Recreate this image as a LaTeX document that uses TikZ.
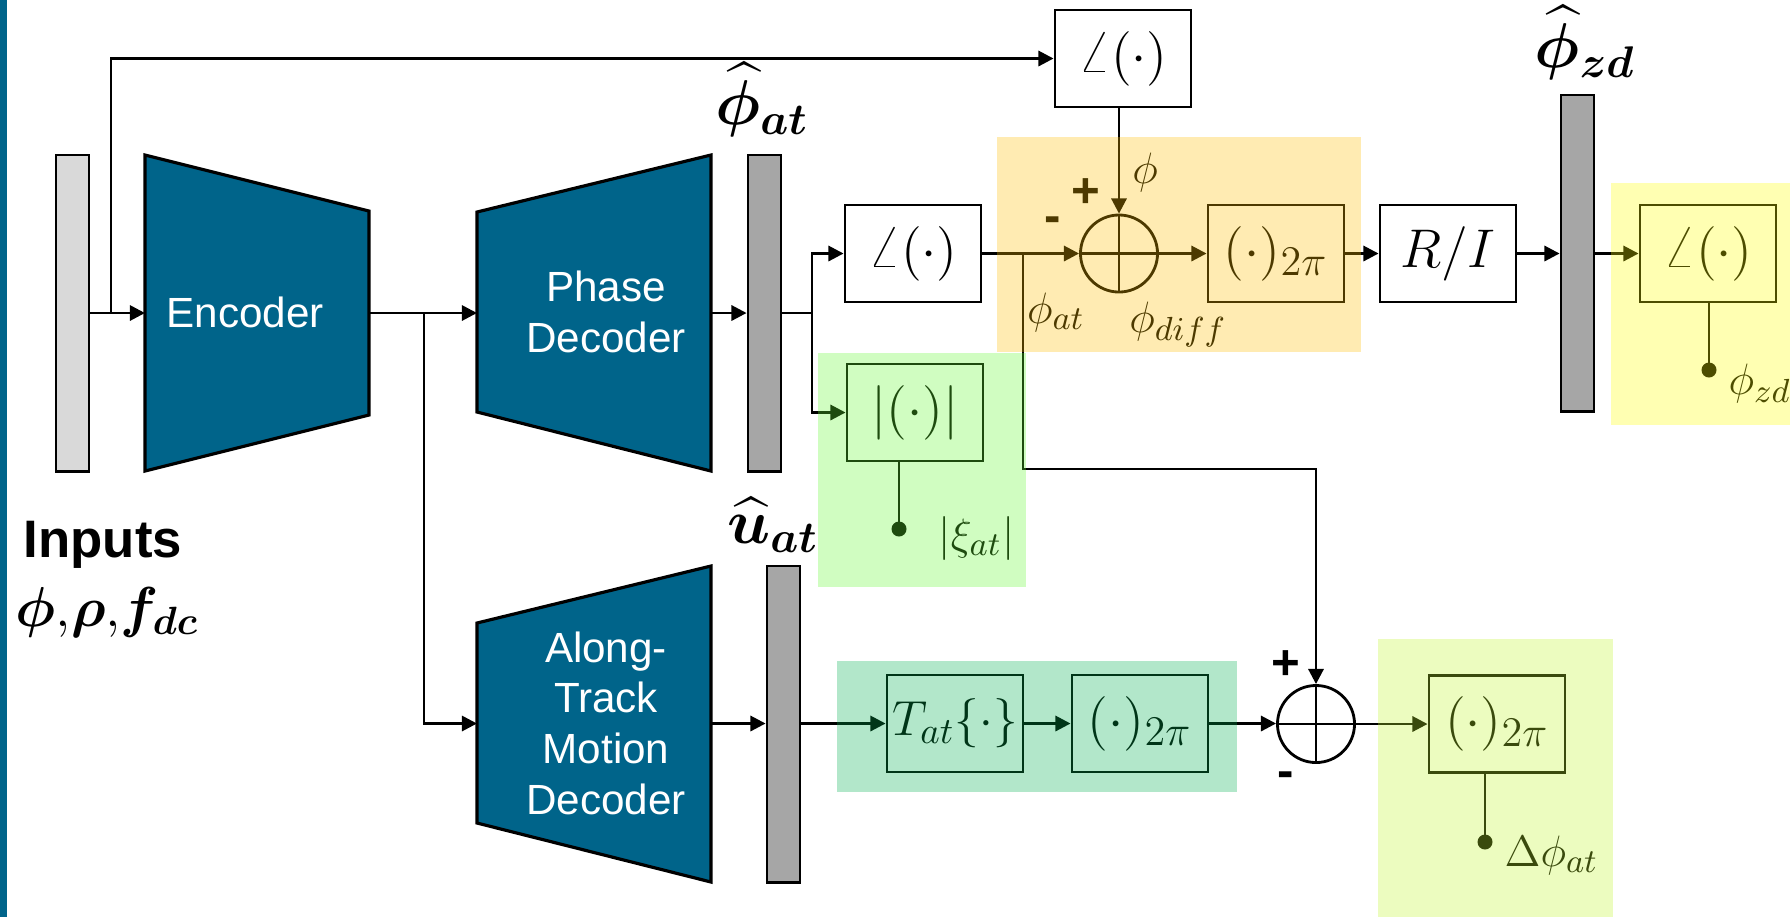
\RequirePackage{fix-cm}
\documentclass[tikz,border=0pt]{standalone}
\usepackage{amsmath}
\usepackage{bm}
\usepackage{fontspec}
\setsansfont{Liberation Sans}
\usetikzlibrary{arrows.meta,calc}
\DeclareMathSizes{15.5}{15.5}{12}{9}
\DeclareMathSizes{14}{14}{10.5}{8}
\DeclareMathSizes{12.5}{12.5}{9.5}{7}
\definecolor{tealblue}{RGB}{0,100,138}
\definecolor{lgray}{RGB}{217,217,217}
\definecolor{dgray}{RGB}{166,166,166}
\definecolor{ovorange}{RGB}{255,192,0}
\definecolor{ovgreen}{RGB}{100,250,50}
\definecolor{ovteal}{RGB}{0,176,80}
\definecolor{ovyellow}{RGB}{255,255,0}
\definecolor{ovlime}{RGB}{195,248,45}
\begin{document}
\begin{tikzpicture}[x=0.01cm,y=-0.01cm,
  box/.style={draw, line width=0.8pt, fill=white, minimum width=1.36cm, minimum height=0.97cm, inner sep=0pt, font=\fontsize{15.5}{17}\selectfont},
  bar/.style={draw, line width=0.8pt, minimum width=0.33cm, minimum height=3.16cm, inner sep=0pt},
  arr/.style={line width=0.8pt, -{Triangle[length=4.3pt,width=4.3pt]}},
  ln/.style={line width=0.8pt},
  sumc/.style={draw, circle, line width=0.8pt, minimum size=0.77cm, inner sep=0pt},
  trap/.style={fill=tealblue, draw=black, line width=0.9pt},
  dectxt/.style={text=white, font=\sffamily\fontsize{12}{14.4}\selectfont, align=center, inner sep=0pt},
  sgn/.style={font=\sffamily\bfseries\fontsize{14}{16}\selectfont, inner sep=0pt},
  lbl/.style={font=\fontsize{12.5}{14}\selectfont, inner sep=0pt},
  big/.style={font=\fontsize{18}{20}\selectfont, inner sep=0pt},
  dotc/.style={circle, fill=black, inner sep=0pt, minimum size=0.15cm},
  tint/.style={fill opacity=0.3}
]
\clip (0,0) rectangle (1790,917);
\fill[white] (0,0) rectangle (1790,917);
\fill[tealblue] (0,0) rectangle (7,917);

% trapezoids
\draw[trap] (145,155) -- (369,211) -- (369,415) -- (145,471) -- cycle;
\node[dectxt] (enc) at (245,312) {Encoder};
\draw[trap] (477,212) -- (711,155) -- (711,471) -- (477,412) -- cycle;
\node[dectxt] (pdec) at (606,312) {Phase\\Decoder};
\draw[trap] (477,623) -- (711,566) -- (711,882) -- (477,823) -- cycle;
\node[dectxt] (adec) at (606,723) {Along-\\Track\\Motion\\Decoder};
\coordinate (encin) at (145,313);
\coordinate (encout) at (369,313);
\coordinate (pdin) at (477,313);
\coordinate (pdout) at (711,313);
\coordinate (atin) at (477,723.5);
\coordinate (atout) at (711,723.5);

% bars
\node[bar, fill=lgray] (inbar) at (72.5,313) {};
\node[bar, fill=dgray] (patbar) at (764.5,313) {};
\node[bar, fill=dgray] (zdbar) at (1577.5,253) {};
\node[bar, fill=dgray] (uatbar) at (783.5,724) {};

% boxes
\node[box] (angtop) at (1123,58.5) {$\angle(\cdot)$};
\node[box] (ang1) at (913,253.5) {$\angle(\cdot)$};
\node[box] (abs) at (915,412.5) {$|(\cdot)|$};
\node[box] (wrap1) at (1276,253.5) {$(\cdot)_{2\pi}$};
\node[box] (ri) at (1448,253.5) {$R/I$};
\node[box] (ang2) at (1708,253.5) {$\angle(\cdot)$};
\node[box, font=\fontsize{14}{16}\selectfont] (tat) at (955,723.5) {$T_{at}\{\cdot\}$};
\node[box] (wrap2) at (1140,723.5) {$(\cdot)_{2\pi}$};
\node[box] (wrap3) at (1497,724) {$(\cdot)_{2\pi}$};

% sums
\node[sumc] (sum1) at (1119,253.5) {};
\node[sumc] (sum2) at (1316,724) {};
\draw[ln] (sum1.north) -- (sum1.south) (sum1.west) -- (sum1.east);
\draw[ln] (sum2.north) -- (sum2.south) (sum2.west) -- (sum2.east);

% connectors
\coordinate (split0) at (111,313);
\coordinate (split1) at (424,313);
\coordinate (split2) at (812,313);
\coordinate (split3) at (1023,253.5);
\coordinate (turn) at (1023,469);
\draw[arr] (inbar.east) -- (encin);
\draw[arr] (split0) |- (angtop.west);
\draw[arr] (encout) -- (pdin);
\draw[arr] (split1) |- (atin);
\draw[arr] (pdout) -- (patbar.west);
\draw[ln] (patbar.east) -- (split2);
\draw[arr] (split2) |- (ang1.west);
\draw[arr] (split2) |- (abs.west);
\draw[arr] (ang1.east) -- (sum1.west);
\draw[arr] (split3) -- (turn) -| (sum2.north);
\draw[arr] (angtop.south -| sum1.north) -- (sum1.north);
\draw[arr] (sum1.east) -- (wrap1.west);
\draw[arr] (wrap1.east) -- (ri.west);
\draw[arr] (ri.east) -- (ri.east -| zdbar.west);
\draw[arr] (zdbar.east |- ang2.west) -- (ang2.west);
\draw[arr] (atout) -- (atout -| uatbar.west);
\draw[arr] (uatbar.east |- tat.west) -- (tat.west);
\draw[arr] (tat.east) -- (wrap2.west);
\draw[arr] (wrap2.east) -- (wrap2.east -| sum2.west);
\draw[arr] (sum2.east) -- (sum2.east -| wrap3.west);

% output stems
\coordinate (dzd) at (1709,370);
\coordinate (dxi) at (899,529);
\coordinate (ddp) at (1485,842);
\draw[ln] (ang2.south -| dzd) -- (dzd);
\draw[ln] (abs.south -| dxi) -- (dxi);
\draw[ln] (wrap3.south -| ddp) -- (ddp);
\node[dotc] (dzdn) at (dzd) {};
\node[dotc] (dxin) at (dxi) {};
\node[dotc] (ddpn) at (ddp) {};

% labels
\node[sgn] (p1) at (1086,193) {+};
\node[sgn] (m1) at (1053,225) {-};
\node[lbl] (lphi) at (1145,172) {$\phi$};
\node[lbl] (lphiat) at (1056,312) {$\phi_{at}$};
\node[lbl] (lphidiff) at (1178,324) {$\phi_{diff}$};
\node[sgn] (p2) at (1286,665) {+};
\node[sgn] (m2) at (1286,780) {-};
\node[lbl, anchor=west] (lxi) at (938,538) {$|\xi_{at}|$};
\node[lbl, anchor=west] (ldp) at (1504,855) {$\Delta\phi_{at}$};
\node[lbl, anchor=west] (lzd) at (1728,383) {$\phi_{zd}$};
\node[big] (lpat) at (762,100) {$\widehat{\bm\phi}_{\bm{at}}$};
\node[big] (lpzd) at (1585,43) {$\widehat{\bm\phi}_{\bm{zd}}$};
\node[big] (luat) at (773,525) {$\widehat{\bm u}_{\bm{at}}$};
\node[font=\sffamily\bfseries\fontsize{15}{18}\selectfont, anchor=west, inner sep=0pt] (inputs) at (23,545) {Inputs};
\node[font=\fontsize{16}{18}\selectfont, anchor=west, inner sep=0pt] (invars) at (15,612) {$\bm{\phi}{,}\bm{\rho}{,}\bm{f}_{\bm{dc}}$};

% translucent highlight regions
\fill[ovorange, tint] (997,137) rectangle (1361,352);
\fill[ovgreen, tint] (818,353) rectangle (1026,587);
\fill[ovteal, tint] (837,661) rectangle (1237,792);
\fill[ovyellow, tint] (1611,183) rectangle (1790,425);
\fill[ovlime, tint] (1378,639) rectangle (1613,917);
\end{tikzpicture}
\end{document}
